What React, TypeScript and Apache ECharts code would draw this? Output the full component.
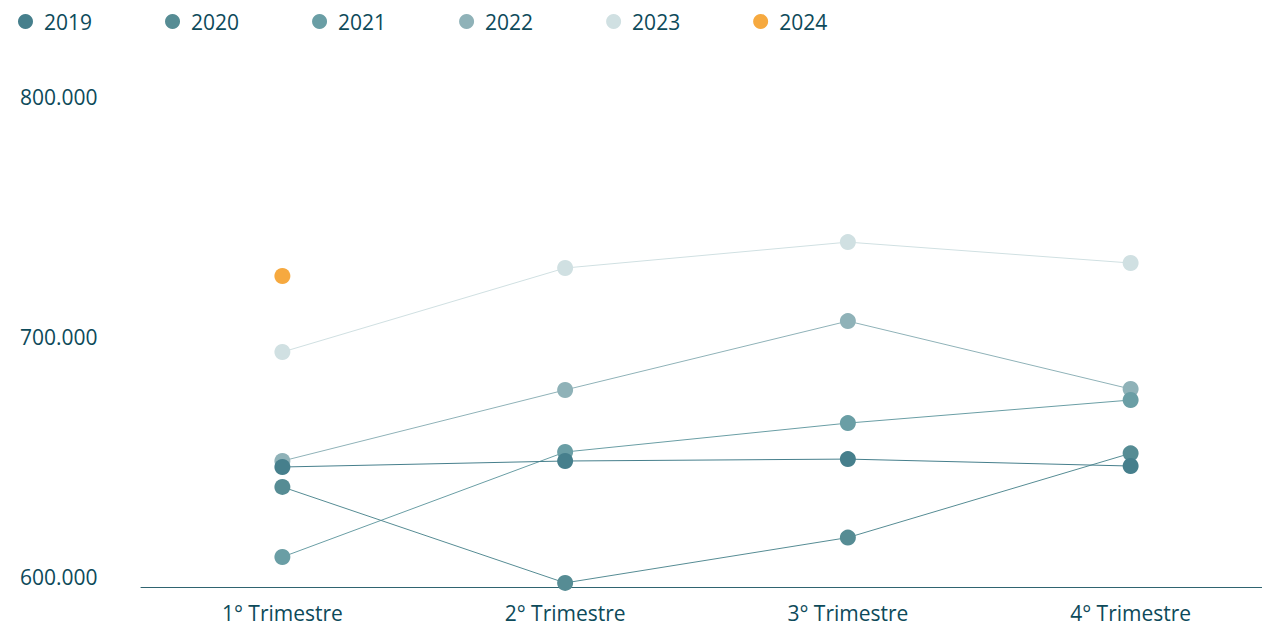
import React, { useEffect, useRef } from "react";
import * as echarts from "echarts";

const categories = ["1° Trimestre", "2° Trimestre", "3° Trimestre", "4° Trimestre"];
const years = ["2019", "2020", "2021", "2022", "2023", "2024"];
const colors = ["#467f8c", "#568c94", "#6a9ea5", "#8fb2b8", "#d0e0e2", "#f6a93f"];
const v2019 = [650000, 652500, 653300, 650400];
const v2020 = [641700, 601700, 620600, 655700];
const v2021 = [612500, 656250, 668300, 677900];
const v2022 = [652500, 682100, 710800, 682500];
const v2023 = [697900, 732900, 743700, 735000];
const v2024 = [729600, null, null, null];
const seriesValues = [v2019, v2020, v2021, v2022, v2023, v2024];
const yTicks = { min: 600000, max: 800000, interval: 100000 };

const FONT = "'Open Sans', sans-serif";
const TEXT = "#0d4a5a";

export default function App() {
  const ref = useRef<HTMLDivElement>(null);
  useEffect(() => {
    document.body.style.margin = "0";
    const chart = echarts.init(ref.current!, null, { renderer: "svg" });
    const series = years
      .map((y, i) => ({
        name: y,
        type: "line",
        data: seriesValues[i],
        symbol: "circle",
        symbolSize: 16,
        showSymbol: true,
        z: 10 - i,
        itemStyle: { color: colors[i] },
        lineStyle: { color: colors[i], width: 1 },
        emphasis: { disabled: true },
      }))
      .reverse();
    chart.setOption({
      animation: false,
      textStyle: { fontFamily: FONT },
      legend: {
        data: years,
        top: 11,
        left: 18,
        padding: 0,
        itemWidth: 15,
        itemHeight: 15,
        itemGap: 73,
        icon: "circle",
        textStyle: { fontFamily: FONT, fontSize: 21, color: TEXT, padding: [0, 0, 0, 6] },
      },
      grid: { left: 141, width: 1131, top: 107, bottom: 41, outerBoundsMode: "none", containLabel: false },
      xAxis: {
        type: "category",
        data: categories,
        boundaryGap: true,
        axisLine: { show: true, lineStyle: { color: "#2f6470", width: 1 } },
        axisTick: { show: false },
        axisLabel: { fontFamily: FONT, fontSize: 21, color: TEXT, margin: 15 },
        splitLine: { show: false },
      },
      yAxis: {
        type: "value",
        min: yTicks.min,
        max: yTicks.max,
        interval: yTicks.interval,
        axisLine: { show: false },
        axisTick: { show: false },
        splitLine: { show: false },
        axisLabel: {
          fontFamily: FONT,
          fontSize: 21,
          color: TEXT,
          align: "left",
          verticalAlign: "bottom",
          margin: 121,
          formatter: (v: number) => v.toLocaleString("de-DE"),
        },
      },
      series,
    });
    return () => chart.dispose();
  }, []);
  return <div ref={ref} style={{ width: 1262, height: 628 }} />;
}
